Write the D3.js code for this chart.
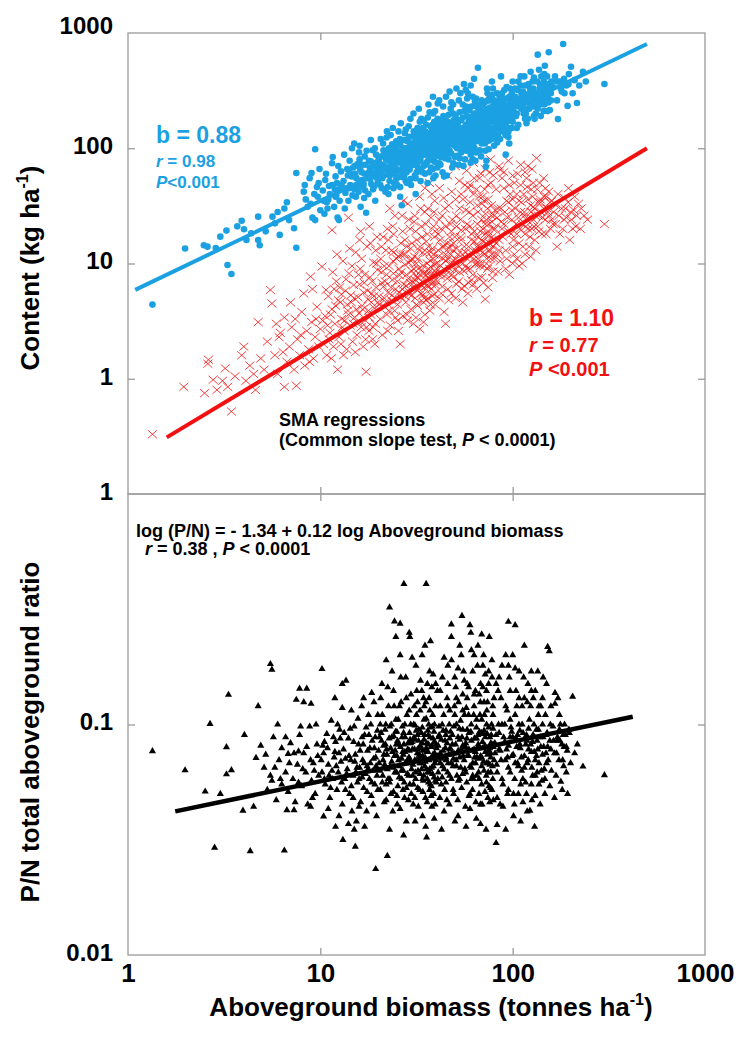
<!DOCTYPE html>
<html><head><meta charset="utf-8">
<script src="https://cdn.jsdelivr.net/npm/d3@7"></script>
<style>
body{margin:0;background:#fff}
svg{display:block}
text{font-family:"Liberation Sans",Arial,Helvetica,sans-serif;font-weight:bold}
</style>
</head><body>
<svg id="c" width="744" height="1048"></svg>
<script>
// ---------- data ----------
const xTickValues = [1, 10, 100, 1000];
const xTickLabels = ["1", "10", "100", "1000"];
const topYTickValues = [1000, 100, 10, 1];
const topYTickLabels = ["1000", "100", "10", "1"];
const botYTickValues = [1, 0.1, 0.01];
const botYTickLabels = ["1", "0.1", "0.01"];

// Nitrogen content (blue dots) [biomass t/ha, kg/ha]
const nitrogenPoints = [
[1.34,4.4],[1.98,13.5],[2.48,14.4],[2.59,14.0],[2.86,13.6],[3.02,17.1],[3.25,19.3],[3.29,9.7],[3.45,8.1],[4.01,19.8],[4.13,16.0],[4.37,18.3],[4.75,16],[4.84,14.4],[4.75,25.5],[5.64,25.5],[5.81,22.3],[6.15,17.7],[6.5,30],[6.7,34],[6.88,23.8],[7.3,20.2],[7.5,13.7],[7.5,61],[9.4,98],[17.3,27.6],[26.5,32],[31.3,40],[44,57],[72.5,69],[92,88],[3.7,21],[3.9,23.5],[5.2,19],[6.0,28],
[8.4,36],[8.6,31],[8.9,33],[9.1,25],[9.4,23.8],[9.6,46],[9.7,38],[10,29],[10.3,43],[10.6,53],[10.8,34],[11.2,40],[11.5,74],[11.5,48],[11.8,31],[12.0,57],[12.1,39],[12.3,25],[12.5,23.8],[12.7,45],[12.8,63],[9.0,61],[10.5,27],[11.0,36],[12.2,50],[8.2,42],[9.8,50],[10.9,30],[11.9,44],[12.6,35],
[8.3,48],[8.8,55],[9.3,40],[9.9,66],[10.4,35],[10.7,60],[11.1,47],[11.6,84],[12.0,38],[12.4,70],[12.9,48],[13.3,88],[13.7,45],[14.2,62],[14.6,100],[15.1,70],[15.6,47],[16.0,105],[16.5,72],[17.0,60],[17.4,95],[17.9,78],[18.3,118],[18.8,70],[19.2,100],[19.6,56],
[13.2,52],[13.5,41],[13.8,66],[14.0,35],[14.3,48],[14.6,57],[15,110],[15,44],[15.3,38],[15.6,73],[15.9,51],[16.2,31],[16.4,62],[16.7,46],[17.0,85],[17.5,55],[17.8,40],[18.1,68],[18.4,49],[18.7,96],[19,58],[19.3,35],[19.6,75],[19.9,52],[13.9,58],[14.8,68],[15.8,42],[16.9,37],[17.9,62],[18.8,44],[19.5,88],[16.0,80],[13.4,30],[18.2,54],[15.2,60],[17.2,72],[19.8,64],[14.2,78],[16.5,53],
[14.1,45],[14.7,39],[15.4,55],[16.1,66],[16.8,49],[17.6,58],[18.3,77],[19.1,47],[19.7,68],[15.9,92],[17.1,43],[18.6,62],
[20.2,62],[20.5,48],[20.8,85],[21,55],[21.2,110],[21.5,70],[21.8,42],[22,95],[22.3,64],[22.6,78],[22.9,52],[23.2,130],[23.5,60],[23.8,88],[24,45],[24.3,72],[24.6,102],[24.9,66],[25.2,56],[25.5,140],[25.8,80],[26,38],[26.3,92],[26.8,70],[27,118],[27.3,58],[27.6,84],[27.9,100],[28.2,50],[28.5,76],[28.8,155],[29.1,65],[29.4,90],[29.7,110],[20.3,74],[21.4,58],[22.4,46],[23.4,82],[24.4,60],[25.4,94],[26.4,74],[27.4,65],[28.4,98],[29.4,54],[20.9,66],[22.1,124],[23.1,70],[24.1,84],[25.1,48],[26.1,106],[27.1,90],[28.1,62],[29.1,126],[21.7,90],[23.7,99],[25.7,64],[27.7,72],[29.6,80],[24.8,115],
[20.1,80],[20.7,57],[21.3,96],[21.9,67],[22.5,88],[23.0,58],[23.6,108],[24.2,76],[24.8,54],[25.3,86],[25.9,120],[26.4,62],[27.0,78],[27.5,135],[28.0,88],[28.6,68],[29.2,104],[29.8,92],[20.4,55],[21.1,72],[22.7,100],[23.9,66],[25.0,78],[26.2,84],[27.3,100],[28.3,115],[29.5,70],[22.0,80],[24.5,92],[26.8,56],
[20.6,120],[21.4,85],[22.2,140],[23.0,95],[23.8,150],[24.6,80],[25.4,110],[26.2,165],[27.0,96],[27.8,145],[28.6,120],[29.4,180],[20.9,45],[22.6,40],[24.2,50],[26.0,46],[27.8,52],[29.6,48],
[30.2,95],[30.5,72],[30.8,128],[31,58],[31.5,105],[31.8,86],[32,150],[32.3,66],[32.6,115],[32.9,92],[33.2,78],[33.5,180],[33.8,100],[34,62],[34.3,135],[34.6,88],[34.9,110],[35.2,72],[35.5,160],[35.8,96],[36.1,50],[36.4,122],[36.7,84],[37,205],[37.3,106],[37.6,68],[37.9,140],[38.2,92],[38.5,118],[38.8,78],[39.1,170],[39.4,100],[39.7,58],[40,130],[40.4,86],[40.8,245],[41.2,110],[41.6,74],[42,150],[42.4,96],[42.8,125],[43.2,62],[43.6,190],[44,105],[44.4,82],[44.8,140],[30.4,110],[31.4,76],[32.4,98],[33.4,120],[34.4,70],[35.4,114],[36.4,90],[37.4,155],[38.4,66],[39.4,124],[40.4,104],[41.4,92],[42.4,175],[43.4,115],[30.9,88],[32.1,130],[33.1,64],[34.1,104],[35.1,140],[36.1,100],[37.1,80],[38.1,112],[39.1,88],[40.1,160],[41.1,130],[42.1,72],[43.1,98],[44.1,124],[31.9,70],[33.9,90],[35.9,76],[37.9,94],[39.9,110],[41.9,115],[43.9,160],[36.8,135],[38.6,200],[40.6,68],[42.6,108],[44.6,92],
[30.3,82],[30.7,100],[31.2,120],[31.6,94],[32.2,80],[32.7,140],[33.0,105],[33.6,86],[34.2,118],[34.8,96],[35.3,130],[35.7,108],[36.3,78],[36.9,115],[37.5,126],[38.0,102],[38.7,86],[39.3,145],[39.8,95],[40.3,118],[40.9,100],[41.5,140],[42.2,84],[42.7,160],[43.3,132],[43.8,88],[44.3,112],[44.9,175],[30.6,140],[31.7,62],[32.9,170],[34.0,150],[35.0,90],[36.2,185],[37.2,92],[38.3,160],[39.5,76],[40.7,180],[41.8,98],[43.0,145],[44.2,98],[33.3,100],[36.6,104],[39.8,130],[42.9,118],
[31.3,55],[33.2,52],[35.0,60],[36.9,62],[38.7,55],[30.5,200],[32.5,220],[34.5,175],[36.5,240],[38.5,280],[39.5,210],[41.5,260],[43.5,230],
[45.2,130],[45.6,100],[46,170],[46.4,80],[46.8,145],[47.2,112],[47.6,220],[48,90],[48.4,125],[48.8,160],[49.2,74],[49.6,135],[50,105],[50.5,190],[51,118],[51.5,86],[52,150],[52.5,260],[53,128],[53.5,98],[54,175],[54.5,110],[55,140],[55.5,70],[56,210],[56.5,120],[57,160],[57.5,95],[58,135],[58.5,300],[59,112],[59.5,180],[60,145],[60.5,88],[61,230],[61.5,125],[62,165],[62.5,104],[63,200],[63.5,140],[64,78],[64.5,270],[65,155],[65.5,118],[66,500],[66.5,185],[67,130],[67.5,96],[68,240],[68.5,150],[69,110],[69.5,205],[45.5,58],[47,95],[49,200],[51,140],[53,82],[55,240],[57,108],[59,150],[61,95],[63,118],[65,190],[67,160],[69,135],[46,120],[48,250],[50,160],[52,112],[54,92],[56,150],[58,190],[60,118],[62,280],[64,170],[66,140],[68,115],[46.5,195],[49.5,115],[52.5,175],[55.5,125],[58.5,100],[61.5,155],[64.5,130],[67.5,220],[69.5,160],[50,84],[57,320],[62,80],
[45.3,150],[45.9,112],[46.6,132],[47.3,165],[47.9,108],[48.6,140],[49.3,175],[49.9,125],[50.7,145],[51.4,100],[52.2,130],[52.9,205],[53.6,150],[54.3,120],[55.1,185],[55.8,145],[56.6,105],[57.3,230],[58.1,160],[58.8,125],[59.6,215],[60.4,170],[61.2,135],[62.1,190],[62.9,150],[63.7,255],[64.6,115],[65.4,175],[66.3,210],[67.2,145],[68.1,180],[69.0,260],[69.8,125],[46.1,90],[48.3,110],[51.8,165],[54.7,98],[57.8,140],[60.8,110],[63.3,100],[66.8,120],[69.3,190],[47.8,130],[53.3,115],[59.1,170],[65.0,230],
[45.0,280],[47.0,310],[49.0,240],[51.0,330],[53.5,300],[55.8,360],[58.0,270],[60.5,350],[63.0,400],[48.5,68],[52.5,72],[56.5,80],[60.5,75],[64.5,92],[68.5,85],
[70.5,180],[71,140],[71.5,250],[72,115],[72.5,200],[73,160],[73.5,330],[74,125],[74.5,220],[75,98],[75.5,170],[76,280],[76.5,140],[77,210],[77.5,120],[78,380],[78.5,175],[79,150],[79.5,240],[80,105],[81,200],[82,160],[83,300],[84,130],[85,230],[86,180],[87,420],[88,145],[89,260],[90,200],[92,165],[93,340],[94,220],[95,125],[96,280],[97,185],[98,240],[99,150],[100,380],[70,230],[72,95],[74,300],[76,190],[78,135],[80,260],[82,210],[84,180],[86,120],[88,300],[90,150],[92,240],[94,180],[96,110],[98,200],[100,170],[75,260],[79,330],[83,190],[87,210],[91,270],[95,190],[99,300],[81,125],[85,150],[89,180],[93,130],[97,330],[73,78],[86,260],
[70.2,155],[71.2,205],[72.3,175],[73.2,135],[74.2,260],[75.2,150],[76.2,225],[77.2,170],[78.2,290],[79.2,190],[80.5,140],[81.5,230],[82.5,185],[83.5,250],[84.5,155],[85.5,280],[86.5,200],[87.5,165],[88.5,230],[89.5,140],[90.5,320],[91.5,190],[92.5,210],[93.5,170],[94.5,270],[95.5,230],[96.5,150],[97.5,260],[98.5,180],[99.5,230],[71.8,110],[76.8,120],[81.8,165],[86.8,145],[91.8,130],[96.8,200],[74.8,190],[79.8,175],[84.8,210],[89.8,240],
[75,116],[83,112],[95,140],
[102,250],[104,190],[106,320],[108,230],[110,420],[112,280],[114,200],[116,350],[118,260],[120,180],[122,300],[124,460],[126,230],[128,330],[130,270],[132,200],[134,380],[135,649],[137,290],[139,240],[141,420],[143,320],[145,210],[147,520],[149,280],[151,360],[153,250],[154,680],[156,215],[158,300],[103,330],[107,160],[111,300],[115,420],[119,220],[123,240],[127,380],[131,300],[135,220],[139,350],[143,260],[147,300],[151,420],[155,330],[159,380],[105,270],[113,240],[121,360],[129,190],[137,480],[145,380],
[101,210],[103,280],[105,200],[107,380],[109,260],[111,220],[113,310],[115,250],[117,200],[119,290],[121,260],[123,330],[125,290],[127,260],[129,410],[131,230],[133,300],[136,260],[138,330],[140,290],[142,360],[144,300],[146,240],[148,340],[150,300],[152,280],[155,260],[157,340],[104,240],[110,350],[116,180],[122,220],[128,300],[134,250],[140,190],[146,440],[152,210],[158,260],
[105,150],[118,165],[130,180],
[162,340],[166,420],[170,260],[172,179],[176,380],[180,310],[183,803],[186,300],[190,350],[193,233],[196,440],[201,510],[205,300],[210,390],[216,247],[222,350],[232,461],[240,380],[170,380],[300,361],[178,330],[185,400],[195,360]
];

// Phosphorus content (red crosses) [biomass t/ha, kg/ha]
const phosphorusPoints = [
[1.34,0.33],[1.95,0.85],[2.5,0.75],[2.62,1.46],[2.77,0.98],[2.9,0.8],[3.1,0.96],[3.2,1.23],[3.45,0.52],[3.6,1.05],[4.0,1.9],[4.1,0.96],[4.3,1.3],[4.5,1.1],[4.75,3.1],[4.6,0.8],[3.9,1.6],[2.6,1.35],[3.3,0.85],[4.9,1.5],
[5.1,1.2],[5.3,2.1],[5.5,5.9],[5.6,4.5],[5.8,1.6],[6.0,1.1],[6.2,2.5],[6.5,0.85],[6.5,3.4],[6.7,1.4],[6.9,1.9],[7.1,2.8],[7.3,1.2],[7.5,0.87],[7.6,2.2],[7.8,1.6],[8.0,3.8],[8.2,5.5],[8.3,1.3],[8.5,2.6],[8.7,1.8],[8.9,7.7],[9.0,3.1],[9.2,1.5],[9.4,2.3],[9.6,4.2],[9.8,1.9],[10,2.7],[5.9,3.0],[6.4,1.7],[7.0,4.6],[7.9,2.4],[8.8,1.4],[9.5,3.3],[6.1,2.3],[7.4,3.3],[9.1,6.0],
[10.2,9.4],[10.4,2.0],[10.6,3.5],[10.8,1.6],[11,5.2],[11.2,2.5],[11.5,19.5],[11.5,4.0],[11.7,1.9],[11.9,3.0],[12.1,7.0],[12.3,1.2],[12.5,2.3],[12.7,4.6],[12.9,3.3],[13.1,10.5],[13.3,2.6],[13.5,5.8],[13.7,1.8],[13.9,3.9],[14.1,8.2],[14.3,2.9],[14.5,4.6],[14.7,2.1],[14.9,6.5],[15.1,3.4],[15.3,12.5],[15.5,2.4],[15.7,5.1],[15.9,3.7],[16.1,9.0],[16.3,2.8],[16.5,4.3],[16.7,1.9],[16.9,6.8],[17.1,3.2],[17.3,1.15],[17.5,14],[17.7,4.9],[17.9,2.6],[18.1,7.6],[18.3,3.6],[18.5,5.5],[18.7,2.2],[18.9,10.2],[19.1,4.1],[19.3,3.0],[19.5,6.2],[19.7,17],[19.9,4.6],[10.9,2.9],[11.8,6.0],[12.8,2.0],[13.8,4.4],[14.8,3.0],[15.8,8.0],[16.8,5.6],[17.8,3.9],[18.8,2.8],[19.8,8.8],[11.3,3.6],[12.4,4.8],[13.4,3.2],[14.4,5.3],[15.4,4.0],[16.4,11],[17.4,2.8],[18.4,4.6],[19.4,13],[14,25],[16,16],[18,21],
[10.3,3.2],[10.7,5.9],[11.1,2.2],[11.6,8.4],[12.0,4.3],[12.6,6.2],[13.0,2.8],[13.6,7.3],[14.0,3.6],[14.6,9.5],[15.0,5.0],[15.6,3.1],[16.0,6.6],[16.6,4.0],[17.0,8.0],[17.6,5.8],[18.0,3.4],[18.6,7.0],[19.0,5.2],[19.6,10],[11.4,1.5],[13.2,1.6],[15.2,1.7],[17.2,2.2],[19.2,2.0],[12.2,12],[14.2,13.5],[16.2,19],[18.2,15],[12.9,5.4],
[20.2,5.2],[20.5,3.3],[20.8,8.4],[21,2.4],[21.3,6.3],[21.6,4.2],[21.9,13],[22.2,3.6],[22.5,5.6],[22.8,9.5],[23.1,2.9],[23.4,4.8],[23.7,7.2],[24,18],[24.3,3.9],[24.6,6.0],[24.9,11],[25.2,4.4],[25.5,2.6],[25.8,7.9],[26,2.0],[26.3,5.1],[26.6,26],[26.9,3.5],[27.2,6.6],[27.5,9.8],[27.8,4.6],[28.1,14],[28.4,3.2],[28.7,7.4],[29,5.4],[29.3,20],[29.6,4.0],[29.9,8.6],[30.2,6.2],[30.5,3.0],[30.8,11.5],[31.1,5.0],[31.4,7.8],[31.7,16],[32,4.3],[32.3,9.0],[32.6,6.0],[32.9,2.7],[33.2,30],[33.5,5.5],[33.8,7.0],[34.1,12.5],[34.4,4.6],[34.7,8.2],[35,3.6],[35.3,22],[35.6,6.4],[35.9,10],[36.2,5.0],[36.5,14],[36.8,7.5],[37.1,3.9],[37.4,9.4],[37.7,6.0],[38,40],[38.3,5.2],[38.6,11],[38.9,7.0],[39.2,17],[39.5,4.4],[39.8,8.4],[20.6,11],[21.7,7.0],[22.6,16],[23.6,5.3],[24.6,3.4],[25.6,9.0],[26.6,6.0],[27.6,12],[28.6,5.8],[29.6,10.5],[30.6,6.8],[31.6,4.4],[32.6,13],[33.6,8.8],[34.6,6.2],[35.6,4.8],[36.6,9.0],[37.6,25],[38.6,8.0],[39.6,6.5],[22,4.6],[24,8.2],[26,12],[28,6.4],[30,15],[32,7.5],[34,5.3],[36,18],[38,6.6],[40,10],[23,30],[27,35],[31,26],[35,45],[39,28],
[20.3,4.4],[20.9,6.8],[21.5,5.0],[22.1,8.0],[22.7,3.9],[23.3,6.2],[23.9,10.5],[24.5,5.0],[25.1,7.0],[25.7,5.6],[26.3,8.4],[26.9,12],[27.5,5.2],[28.1,8.0],[28.7,10.2],[29.3,6.8],[29.9,5.3],[30.5,9.0],[31.1,7.2],[31.7,5.9],[32.3,11],[32.9,8.0],[33.5,6.5],[34.1,9.6],[34.7,5.0],[35.3,7.8],[35.9,12.5],[36.5,6.4],[37.1,10.6],[37.7,8.0],[38.3,13.5],[38.9,5.4],[39.5,9.8],[21.2,17],[23.8,21],[26.2,15],[28.8,24],[31.3,19],[33.8,17],[36.3,30],[38.8,21],[22.4,2.6],[25.2,3.2],[28.2,3.6],[31.4,3.4],[34.4,3.1],[37.4,4.4],[24.0,12.5],[30.0,11],[33.0,14],[36.0,8.2],[39.0,12],
[20.8,14],[22.3,20],[24.4,26],[26.8,19],[28.5,33],[30.7,23],[32.8,38],[34.9,28],[37.0,50],[39.3,35],[21.5,9.5],[23.5,13],[25.5,11.5],[27.5,16],[29.5,13.5],[31.5,10],[33.5,21],[35.5,15.5],[37.5,12.5],[39.5,19],
[40.5,7.0],[41,13],[41.5,5.0],[42,9.6],[42.5,20],[43,6.3],[43.5,11],[44,3.8],[44.8,3.0],[45,8.0],[45.5,15],[46,6.0],[46.5,32],[47,9.0],[47.5,12],[48,5.5],[48.5,24],[49,7.6],[49.5,10.5],[50,17],[51,6.6],[52,12],[53,8.4],[54,40],[55,4.6],[56,14],[57,9.5],[58,22],[59,6.8],[60,11.5],[61,16],[62,8.0],[63,55],[64,13],[65,6.0],[66,28],[67,10],[68,19],[69,7.6],[70,12.5],[71,35],[72,4.9],[73,15],[74,9.0],[75,22],[76,62],[77,11],[78,17],[79,8.5],[80,26],[41,18],[43,26],[45,10.5],[47,17],[49,13],[51,21],[53,30],[55,10],[57,12.5],[59,45],[61,7.2],[63,19],[65,14],[67,38],[69,16],[71,9.5],[73,24],[75,13],[77,50],[79,14],[42,7.8],[46,11],[50,8.8],[54,16],[58,9.0],[62,26],[66,11],[70,20],[74,30],[78,12],[44,14],[48,19],[52,9.6],[56,6.4],[60,34],[64,9.8],[68,13],[72,18],[76,15],[80,11],
[40.3,9.0],[41.2,11.5],[42.1,8.2],[43.0,14],[43.9,9.0],[44.8,12],[45.7,7.4],[46.6,13.5],[47.5,10],[48.4,8.0],[49.3,15],[50.2,11],[51.3,13.5],[52.4,7.0],[53.5,17],[54.6,12],[55.7,8.6],[56.8,20],[57.9,11],[59.0,14],[60.1,9.0],[61.2,18],[62.3,12],[63.4,15.5],[64.5,10],[65.6,22],[66.7,14],[67.8,9.5],[68.9,24],[70.0,15.5],[71.1,12],[72.2,27],[73.3,11],[74.4,19],[75.5,9.5],[76.6,13],[77.7,32],[78.8,20],[79.9,16],[41.5,24],[44.5,30],[47.5,22],[50.5,36],[53.5,24],[56.5,48],[59.5,28],[62.5,40],[65.5,32],[68.5,60],[71.5,44],[74.5,36],[77.5,26],[42.5,5.5],[46.5,4.8],[50.5,5.0],[54.5,6.0],[58.5,5.5],[62.5,6.6],[66.5,7.5],[70.5,6.8],[74.5,6.2],[78.5,7.5],
[41.6,45],[43.8,37],[46.0,58],[48.2,42],[50.4,70],[52.8,52],[55.2,36],[57.6,64],[60.0,48],[62.4,75],[64.8,44],[67.2,55],[69.6,38],[72.0,66],[74.4,48],[76.8,80],[79.2,58],[42,16],[45,21],[48,14.5],[51,26],[54,19.5],[57,29],[60,21],[63,11],[66,17],[69,33],[72,22],[75,17.5],[78,23],
[82,15],[84,30],[86,10.5],[88,20],[90,45],[92,13],[94,25],[96,8.0],[98,18],[100,36],[102,12],[104,22],[106,60],[108,15],[110,28],[112,10],[114,40],[116,18],[118,24],[120,70],[122,14],[124,32],[126,20],[128,50],[130,16],[133,82],[136,26],[139,36],[142,18],[145,55],[148,24],[151,30],[154,42],[157,20],[160,35],[85,16],[95,34],[105,18],[115,26],[125,44],[135,21],[145,30],[155,26],[90,22],[100,14],[110,48],[120,20],[130,30],[140,28],[150,38],[88,55],[108,35],[128,24],[148,45],[83,12],
[81,20],[83,25],[85,13],[87,30],[89,17],[91,28],[93,11],[95,19],[97,40],[99,24],[101,16],[103,30],[105,11],[107,25],[109,20],[111,34],[113,14],[115,28],[117,21],[119,46],[121,25],[123,17],[125,28],[127,38],[129,21],[131,26],[134,44],[137,19],[140,34],[143,25],[146,38],[149,18],[152,28],[156,34],[159,24],[84,8.5],[92,9.0],[100,10],[108,9.5],[116,12],[124,11.5],[132,13],[86,65],[96,48],[116,62],[138,50],[100,58],
[82,44],[85,70],[90,62],[95,78],[102,50],[110,72],[118,55],[126,66],[81,29],[87,23],[93,35],[99,29],[105,40],[112,22],[120,36],[128,31],[136,34],
[163,28],[167,22],[172,40],[176,18],[180,30],[186,37],[190,25],[195,45],[200,28],[205,20],[213,21],[220,33],[227,30],[235,26],[245,24],[300,22],[170,14],[185,24],[198,16],[210,38],
[162,22],[168,32],[174,26],[182,20],[188,30],[194,34],[202,24],[208,29],[215,26],[225,20]
];

// P/N ratio (black triangles) [biomass t/ha, ratio]
const ratioPoints = [
[1.34,0.0766],[1.98,0.0633],[2.52,0.0512],[2.67,0.1006],[2.82,0.0292],[3.02,0.050],[3.25,0.0797],[3.25,0.0608],[3.33,0.1346],[3.45,0.0634],[3.96,0.0423],[4.03,0.0901],[4.32,0.0282],[4.5,0.044],[4.63,0.0716],[4.75,0.1202],[4.9,0.081],[5.5,0.183],[5.6,0.173],[5.6,0.0571],[6.3,0.079],[6.5,0.0284],[6.7,0.0425],[7.3,0.0425],[6.8,0.0745],[7.7,0.0764],[7.5,0.128],[7.8,0.143],[8.5,0.143],[8.2,0.125],[8.95,0.123],[10.2,0.174],[10.4,0.0399],[13.1,0.0316],[15.2,0.0295],[19.4,0.0236],[22.3,0.0269],[27.2,0.407],[35.5,0.407],[22.9,0.322],[24.3,0.28],[26,0.274],[35.7,0.0324],[29.2,0.240],[54.5,0.296],[48,0.272],[60,0.27],[69,0.246],[95,0.279],[103,0.27],[82,0.0306],[83,0.0367],[152,0.217],[155,0.208],[166,0.137],[166,0.123],[205,0.132],[217,0.082],[232,0.0657],[300,0.0603],[193,0.050],[178,0.0565],[123,0.0423],
[5.1,0.065],[5.3,0.052],[5.5,0.06],[5.7,0.088],[5.9,0.047],[6.1,0.07],[6.3,0.055],[6.6,0.062],[6.8,0.051],[7.0,0.083],[7.2,0.058],[7.4,0.046],[7.6,0.067],[7.8,0.09],[8.0,0.054],[8.2,0.075],[8.4,0.062],[8.6,0.045],[8.8,0.098],[9.0,0.057],[9.2,0.068],[9.4,0.05],[9.6,0.082],[9.8,0.06],[6.0,0.1],[8.9,0.044],
[5.2,0.074],[5.8,0.065],[6.2,0.058],[6.9,0.068],[7.3,0.075],[7.7,0.056],[8.1,0.064],[8.5,0.08],[8.9,0.07],[9.3,0.063],[9.7,0.073],[6.6,0.088],[7.9,0.098],[9.1,0.048],[9.5,0.1],
[10.2,0.062],[10.4,0.075],[10.6,0.055],[10.8,0.091],[11,0.067],[11.2,0.048],[11.4,0.104],[11.6,0.058],[11.8,0.072],[12,0.084],[12.2,0.052],[12.4,0.062],[12.6,0.095],[12.8,0.069],[13,0.045],[13.2,0.078],[13.4,0.058],[13.6,0.155],[13.8,0.064],[14,0.087],[14.2,0.05],[14.4,0.07],[14.6,0.042],[14.8,0.06],[15,0.098],[15.2,0.074],[15.4,0.038],[15.6,0.056],[15.8,0.082],[16,0.065],[16.2,0.046],[16.4,0.12],[16.6,0.07],[16.8,0.053],[17,0.09],[17.2,0.061],[17.4,0.042],[17.6,0.077],[17.8,0.11],[18,0.058],[18.2,0.068],[18.4,0.049],[18.6,0.085],[18.8,0.063],[19,0.125],[19.2,0.055],[19.4,0.072],[19.6,0.04],[19.8,0.094],[10.5,0.084],[11.5,0.063],[12.5,0.04],[13.5,0.071],[14.5,0.115],[15.5,0.065],[16.5,0.088],[17.5,0.051],[18.5,0.137],[19.5,0.066],[13,0.15],[15,0.035],[17,0.036],[12,0.036],[14,0.037],
[10.1,0.07],[10.5,0.058],[10.9,0.079],[11.3,0.053],[11.7,0.088],[12.1,0.066],[12.5,0.075],[12.9,0.056],[13.3,0.092],[13.7,0.061],[14.1,0.073],[14.5,0.054],[14.9,0.084],[15.3,0.062],[15.7,0.106],[16.1,0.077],[16.5,0.059],[16.9,0.068],[17.3,0.097],[17.7,0.064],[18.1,0.079],[18.5,0.056],[18.9,0.071],[19.3,0.088],[19.7,0.06],[11.0,0.043],[13.0,0.118],[14.8,0.048],[16.8,0.13],[18.8,0.045],[12.3,0.1],[15.9,0.044],[17.9,0.09],[19.9,0.11],[11.9,0.13],
[10.3,0.081],[11.1,0.06],[11.9,0.076],[12.7,0.087],[13.5,0.052],[14.3,0.096],[15.1,0.069],[15.9,0.058],[16.7,0.082],[17.5,0.066],[18.3,0.1],[19.1,0.079],[19.9,0.052],
[20.2,0.068],[20.5,0.052],[20.8,0.085],[21.1,0.06],[21.4,0.074],[21.7,0.095],[22,0.047],[22.3,0.064],[22.6,0.12],[22.9,0.056],[23.2,0.079],[23.5,0.069],[23.8,0.042],[24.1,0.089],[24.4,0.062],[24.7,0.105],[25,0.073],[25.3,0.054],[25.6,0.082],[25.9,0.066],[26.2,0.16],[26.5,0.058],[26.8,0.076],[27.1,0.092],[27.4,0.048],[27.7,0.068],[28,0.13],[28.3,0.061],[28.6,0.083],[28.9,0.072],[29.2,0.055],[29.5,0.1],[29.8,0.064],[30.1,0.078],[30.4,0.045],[30.7,0.088],[31,0.07],[31.3,0.058],[31.6,0.11],[31.9,0.075],[32.2,0.063],[32.5,0.095],[32.8,0.052],[33.1,0.081],[33.4,0.068],[33.7,0.14],[34,0.073],[34.3,0.057],[34.6,0.086],[34.9,0.066],[35.2,0.048],[35.5,0.106],[35.8,0.076],[36.1,0.062],[36.4,0.09],[36.7,0.07],[37,0.17],[37.3,0.055],[37.6,0.08],[37.9,0.065],[38.2,0.098],[38.5,0.074],[38.8,0.05],[39.1,0.084],[39.4,0.068],[39.7,0.12],[21,0.11],[23,0.058],[25,0.093],[27,0.063],[29,0.077],[31,0.086],[33,0.061],[35,0.072],[37,0.064],[39,0.059],[22,0.19],[24,0.14],[26,0.043],[28,0.038],[30,0.195],[32,0.125],[34,0.04],[36,0.15],[38,0.044],[40,0.082],[20.5,0.1],[23.5,0.088],[26.5,0.071],[29.5,0.083],[32.5,0.071],[35.5,0.079],[38.5,0.087],[24.5,0.077],[27.5,0.076],[33.5,0.092],[36.5,0.056],
[20.1,0.077],[20.4,0.063],[20.7,0.092],[21.0,0.056],[21.3,0.081],[21.6,0.067],[21.9,0.1],[22.2,0.074],[22.5,0.058],[22.8,0.087],[23.1,0.066],[23.4,0.1],[23.7,0.076],[24.0,0.051],[24.3,0.073],[24.6,0.093],[24.9,0.062],[25.2,0.085],[25.5,0.07],[25.8,0.12],[26.1,0.08],[26.4,0.063],[26.7,0.098],[27.0,0.074],[27.3,0.056],[27.6,0.088],[27.9,0.068],[28.2,0.11],[28.5,0.078],[28.8,0.06],[29.1,0.092],[29.4,0.07],[29.7,0.05],[30.0,0.084],[30.3,0.067],[30.6,0.1],[30.9,0.078],[31.2,0.062],[31.5,0.094],[31.8,0.07],[32.1,0.053],[32.4,0.085],[32.7,0.074],[33.0,0.115],[33.3,0.079],[33.6,0.064],[33.9,0.097],[34.2,0.077],[34.5,0.06],[34.8,0.09],[35.1,0.069],[35.4,0.125],[35.7,0.083],[36.0,0.058],[36.3,0.076],[36.6,0.1],[36.9,0.062],[37.2,0.088],[37.5,0.071],[37.8,0.054],[38.1,0.081],[38.4,0.11],[38.7,0.066],[39.0,0.093],[39.3,0.075],[39.6,0.057],[39.9,0.07],
[20.6,0.13],[22.4,0.145],[24.2,0.12],[26.0,0.2],[27.8,0.16],[29.6,0.135],[31.4,0.18],[33.2,0.155],[35.0,0.22],[36.8,0.13],[38.6,0.165],[21.5,0.046],[23.3,0.05],[25.1,0.045],[26.9,0.052],[28.7,0.047],[30.5,0.055],[32.3,0.044],[34.1,0.051],[35.9,0.046],[37.7,0.049],[39.5,0.045],[22.9,0.035],[27.1,0.033],[31.1,0.038],[35.3,0.036],[39.1,0.039],[24.7,0.24],[29.0,0.25],[33.8,0.2],[37.4,0.23],[38.0,0.145],[25.4,0.105],[30.8,0.12],[34.6,0.105],[21.8,0.082],[27.2,0.082],[32.0,0.09],[36.2,0.094],
[20.3,0.088],[21.2,0.07],[22.1,0.078],[23.0,0.098],[23.9,0.065],[24.8,0.082],[25.7,0.059],[26.6,0.088],[27.5,0.1],[28.4,0.07],[29.3,0.086],[30.2,0.06],[31.1,0.099],[32.0,0.078],[32.9,0.068],[33.8,0.083],[34.7,0.12],[35.6,0.064],[36.5,0.082],[37.4,0.097],[38.3,0.061],[39.2,0.1],
[20.9,0.15],[23.6,0.17],[26.3,0.125],[29.0,0.115],[31.7,0.14],[34.4,0.13],[37.1,0.115],[39.8,0.15],[22.0,0.055],[25.0,0.049],[28.0,0.053],[31.0,0.048],[34.0,0.058],[37.0,0.052],[40.0,0.056],
[40.5,0.073],[41,0.062],[41.5,0.09],[42,0.068],[42.5,0.055],[43,0.1],[43.5,0.077],[44,0.064],[44.5,0.085],[45,0.07],[45.5,0.047],[46,0.12],[46.5,0.074],[47,0.06],[47.5,0.093],[48,0.068],[48.5,0.082],[49,0.052],[49.5,0.075],[50,0.11],[51,0.066],[52,0.088],[53,0.058],[54,0.078],[55,0.135],[56,0.07],[57,0.062],[58,0.095],[59,0.073],[60,0.05],[61,0.085],[62,0.068],[63,0.12],[64,0.076],[65,0.06],[66,0.09],[67,0.071],[68,0.045],[69,0.105],[70,0.079],[71,0.063],[72,0.088],[73,0.056],[74,0.074],[75,0.15],[76,0.067],[77,0.083],[78,0.052],[79,0.096],[80,0.07],[41,0.081],[43,0.059],[45,0.094],[47,0.078],[49,0.066],[51,0.1],[53,0.072],[55,0.061],[57,0.083],[59,0.11],[61,0.065],[63,0.078],[65,0.087],[67,0.058],[69,0.072],[71,0.094],[73,0.068],[75,0.077],[77,0.062],[79,0.082],[42,0.14],[46,0.18],[50,0.16],[54,0.2],[58,0.13],[62,0.17],[66,0.22],[70,0.145],[74,0.125],[78,0.19],[44,0.042],[52,0.04],[60,0.043],[68,0.037],[76,0.046],[48,0.24],[56,0.155],[64,0.14],[72,0.165],[80,0.13],[45,0.072],[53,0.086],[61,0.058],[69,0.092],[77,0.072],
[40.2,0.079],[40.8,0.058],[41.4,0.098],[42.0,0.075],[42.6,0.086],[43.2,0.066],[43.8,0.11],[44.4,0.072],[45.0,0.056],[45.6,0.083],[46.2,0.068],[46.8,0.1],[47.4,0.079],[48.0,0.058],[48.6,0.09],[49.2,0.071],[49.8,0.12],[50.5,0.082],[51.3,0.06],[52.1,0.077],[52.9,0.096],[53.7,0.065],[54.5,0.088],[55.3,0.073],[56.1,0.11],[56.9,0.08],[57.7,0.056],[58.5,0.074],[59.3,0.092],[60.1,0.066],[60.9,0.1],[61.7,0.077],[62.5,0.058],[63.3,0.087],[64.1,0.068],[64.9,0.105],[65.7,0.079],[66.5,0.062],[67.3,0.093],[68.1,0.073],[68.9,0.055],[69.7,0.084],[70.5,0.069],[71.3,0.11],[72.1,0.076],[72.9,0.06],[73.7,0.091],[74.5,0.068],[75.3,0.054],[76.1,0.088],[76.9,0.075],[77.7,0.1],[78.5,0.066],[79.3,0.08],
[40.6,0.14],[43.1,0.16],[45.6,0.13],[48.1,0.19],[50.6,0.145],[53.1,0.22],[55.6,0.17],[58.1,0.15],[60.6,0.25],[63.1,0.135],[65.6,0.18],[68.1,0.15],[70.6,0.2],[73.1,0.14],[75.6,0.24],[78.1,0.16],[41.8,0.048],[44.3,0.052],[46.8,0.045],[49.3,0.05],[51.8,0.047],[54.3,0.053],[56.8,0.044],[59.3,0.049],[61.8,0.052],[64.3,0.046],[66.8,0.05],[69.3,0.045],[71.8,0.051],[74.3,0.048],[76.8,0.053],[79.3,0.047],[42.7,0.035],[50.1,0.038],[57.2,0.036],[64.7,0.039],[72.7,0.035],[47.1,0.115],[52.3,0.125],[57.4,0.118],[62.7,0.11],[67.9,0.125],[73.4,0.115],[78.8,0.12],[44.9,0.09],[55.0,0.095],[65.2,0.072],[75.0,0.097],
[41.1,0.088],[42.3,0.071],[43.5,0.094],[44.7,0.079],[45.9,0.062],[47.1,0.087],[48.3,0.075],[49.5,0.098],[50.8,0.07],[52.2,0.057],[53.6,0.104],[55.0,0.081],[56.4,0.064],[57.8,0.087],[59.2,0.078],[60.6,0.093],[62.0,0.06],[63.4,0.072],[64.8,0.097],[66.2,0.082],[67.6,0.11],[69.0,0.066],[70.4,0.091],[71.8,0.081],[73.2,0.1],[74.6,0.062],[76.0,0.079],[77.4,0.09],[78.8,0.058],
[42,0.12],[46,0.15],[51,0.13],[55,0.115],[59,0.145],[63,0.2],[67,0.135],[71,0.125],[75,0.17],[79,0.11],[44,0.195],[52,0.175],[61,0.21],[70,0.18],
[81,0.075],[83,0.062],[85,0.092],[87,0.07],[89,0.055],[91,0.1],[93,0.078],[95,0.065],[97,0.088],[99,0.073],[101,0.05],[103,0.11],[105,0.08],[107,0.066],[109,0.094],[111,0.072],[113,0.058],[115,0.13],[117,0.082],[119,0.068],[121,0.096],[125,0.076],[127,0.06],[129,0.1],[131,0.07],[134,0.085],[137,0.055],[140,0.12],[143,0.074],[146,0.064],[149,0.09],[158,0.078],[84,0.14],[88,0.18],[92,0.12],[96,0.16],[100,0.2],[104,0.14],[108,0.17],[112,0.12],[120,0.15],[128,0.13],[136,0.11],[144,0.16],[86,0.045],[94,0.05],[102,0.045],[110,0.055],[118,0.05],[126,0.047],[134,0.062],[142,0.057],[150,0.068],[98,0.097],
[80.8,0.083],[82.6,0.067],[84.4,0.1],[86.2,0.077],[88.0,0.058],[89.8,0.088],[91.6,0.07],[93.4,0.115],[95.2,0.081],[97.0,0.062],[98.8,0.093],[100.6,0.074],[102.4,0.058],[104.2,0.087],[106.0,0.068],[107.8,0.1],[109.6,0.079],[111.4,0.063],[113.2,0.092],[115.0,0.073],[116.8,0.056],[118.6,0.085],[120.4,0.07],[122.2,0.105],[124.0,0.082],[125.8,0.065],[127.6,0.09],[129.4,0.076],[131.2,0.06],[133.0,0.095],[135.0,0.078],[137.0,0.068],[139.0,0.088],[141.0,0.063],[143.0,0.1],[145.0,0.08],[147.0,0.058],[149.0,0.075],[151.0,0.092],[153.0,0.07],[156.0,0.085],[159.0,0.063],[162.0,0.098],[165.0,0.075],[168.0,0.06],[171.0,0.088],[174.0,0.07],[177.0,0.1],[180.0,0.082],[184.0,0.066],[188.0,0.09],[192.0,0.077],[196.0,0.095],
[82,0.15],[87,0.13],[92,0.2],[97,0.14],[103,0.175],[108,0.13],[114,0.16],[119,0.125],[125,0.17],[131,0.14],[137,0.12],[143,0.13],[150,0.15],[158,0.12],[172,0.13],[83,0.048],[89,0.044],[95,0.052],[101,0.04],[107,0.05],[113,0.046],[119,0.042],[125,0.055],[131,0.049],[139,0.045],[147,0.05],[156,0.054],[165,0.048],[181,0.052],[92,0.035],[110,0.038],[130,0.036],
[82,0.09],[85,0.078],[88,0.1],[91,0.084],[94,0.072],[97,0.105],[100,0.088],[103,0.068],[106,0.09],[109,0.082],[112,0.1],[115,0.065],[118,0.09],[121,0.078],[124,0.12],[127,0.084],[130,0.088],[133,0.073],[136,0.095],[140,0.08],[144,0.088],[148,0.11],[152,0.08],[157,0.1],[163,0.085],[169,0.075],[176,0.085],[183,0.09],[190,0.08],
[85,0.16],[95,0.18],[105,0.12],[115,0.22],[125,0.14],[135,0.17],
[170,0.085],[175,0.095],[182,0.07],[186,0.1],[190,0.062],[197,0.092],[210,0.075],[185,0.08],[175,0.11],[200,0.068]
];

// regression line end points
const nitrogenFit = [[1.09, 5.9], [499, 803]];
const phosphorusFit = [[1.59, 0.31], [499, 100]];
const ratioFit = [[1.76, 0.042], [421, 0.108]];

// ---------- layout ----------
const L = 128, R = 705, T = 33, M = 494, B = 955;
const BLUE = "#1ba1e2", RED = "#f21010", GREY = "#9a9a9a";

const svg = d3.select("#c");
const x = d3.scaleLog().domain([1, 1000]).range([L, R]);
const yTop = d3.scaleLog().domain([0.1, 1000]).range([M, T]);
const yBot = d3.scaleLog().domain([0.01, 1]).range([B, M]);

// frames
svg.append("rect").attr("x", L).attr("y", T).attr("width", R - L).attr("height", M - T)
  .attr("fill", "none").attr("stroke", GREY).attr("stroke-width", 1.3);
svg.append("rect").attr("x", L).attr("y", M).attr("width", R - L).attr("height", B - M)
  .attr("fill", "none").attr("stroke", GREY).attr("stroke-width", 1.3);

// inner ticks
function ticksOnly(axis, tx, ty) {
  const g = svg.append("g").attr("transform", `translate(${tx},${ty})`).call(axis);
  g.select(".domain").remove();
  g.selectAll("text").remove();
  g.selectAll("line").attr("stroke", GREY).attr("stroke-width", 1.3);
}
const innerX = [10, 100];
ticksOnly(d3.axisTop(x).tickValues(innerX).tickSize(-7), 0, T);
ticksOnly(d3.axisBottom(x).tickValues(innerX).tickSize(-7), 0, M);
ticksOnly(d3.axisTop(x).tickValues(innerX).tickSize(-7), 0, M);
ticksOnly(d3.axisBottom(x).tickValues(innerX).tickSize(-7), 0, B);
ticksOnly(d3.axisLeft(yTop).tickValues([100, 10, 1]).tickSize(-7), L, 0);
ticksOnly(d3.axisRight(yTop).tickValues([100, 10, 1]).tickSize(-7), R, 0);
ticksOnly(d3.axisLeft(yBot).tickValues([0.1]).tickSize(-7), L, 0);
ticksOnly(d3.axisRight(yBot).tickValues([0.1]).tickSize(-7), R, 0);

// tick labels
function labelAxis(axis, tx, ty, size) {
  const g = svg.append("g").attr("transform", `translate(${tx},${ty})`).call(axis);
  g.select(".domain").remove();
  g.selectAll("line").remove();
  g.attr("font-family", null).attr("font-size", null);
  g.selectAll("text").attr("font-size", size).attr("fill", "#000");
  return g;
}
const gyt = labelAxis(d3.axisLeft(yTop).tickValues(topYTickValues).tickSize(0).tickPadding(15)
  .tickFormat((d, i) => topYTickLabels[i]), L, 0, 24);
gyt.selectAll("text").attr("dy", d => d === 1000 ? "0em" : "0.22em");
const gyb = labelAxis(d3.axisLeft(yBot).tickValues(botYTickValues).tickSize(0).tickPadding(15)
  .tickFormat((d, i) => botYTickLabels[i]), L, 0, 24);
gyb.selectAll("text").attr("dy", "0.22em");
const gx = labelAxis(d3.axisBottom(x).tickValues(xTickValues).tickSize(0)
  .tickFormat((d, i) => xTickLabels[i]), 0, B, 26);
gx.selectAll("text").attr("dy", null).attr("y", 27);

// ---------- marks ----------
const crossPath = "M-4.5,-4L4.5,4M-4.5,4L4.5,-4";
svg.append("g").selectAll("path").data(phosphorusPoints).join("path")
  .attr("transform", d => `translate(${x(d[0])},${yTop(d[1])})`)
  .attr("d", crossPath).attr("stroke", RED).attr("stroke-width", 0.8).attr("fill", "none");

svg.append("g").selectAll("circle").data(nitrogenPoints).join("circle")
  .attr("cx", d => x(d[0])).attr("cy", d => yTop(d[1])).attr("r", 3.3).attr("fill", BLUE);

const tri = d3.symbol(d3.symbolTriangle, 22);
svg.append("g").selectAll("path").data(ratioPoints).join("path")
  .attr("transform", d => `translate(${x(d[0])},${yBot(d[1])})`)
  .attr("d", tri).attr("fill", "#000");

const lineTop = d3.line().x(d => x(d[0])).y(d => yTop(d[1]));
const lineBot = d3.line().x(d => x(d[0])).y(d => yBot(d[1]));
svg.append("path").attr("d", lineTop(nitrogenFit)).attr("stroke", BLUE).attr("stroke-width", 4).attr("fill", "none");
svg.append("path").attr("d", lineTop(phosphorusFit)).attr("stroke", RED).attr("stroke-width", 4).attr("fill", "none");
svg.append("path").attr("d", lineBot(ratioFit)).attr("stroke", "#000").attr("stroke-width", 4.5).attr("fill", "none");

// ---------- annotations ----------
function rich(px, py, size, color, parts) {
  const t = svg.append("text").attr("x", px).attr("y", py).attr("font-size", size).attr("fill", color);
  parts.forEach(p => {
    const s = t.append("tspan").text(p[0]);
    if (p[1]) s.attr("font-style", "italic");
  });
  return t;
}
rich(156, 143, 23, BLUE, [["b = 0.88"]]);
rich(156, 167, 17, BLUE, [["r", 1], [" = 0.98"]]);
rich(156, 188, 17, BLUE, [["P", 1], ["<0.001"]]);
rich(529, 326, 23, RED, [["b = 1.10"]]);
rich(529, 352, 20, RED, [["r", 1], [" = 0.77"]]);
rich(529, 376, 20, RED, [["P", 1], [" <0.001"]]);
rich(279, 426, 18, "#000", [["SMA regressions"]]);
rich(279, 446, 18, "#000", [["(Common slope test, "], ["P", 1], [" < 0.0001)"]]);
rich(136, 537, 18, "#000", [["log (P/N) = - 1.34 + 0.12 log Aboveground biomass"]]);
rich(145, 555, 18, "#000", [["r", 1], [" = 0.38 , "], ["P", 1], [" < 0.0001"]]);

// axis titles
function title(tx, ty, rot, main, tail) {
  const t = svg.append("text").attr("transform", `translate(${tx},${ty}) rotate(${rot})`)
    .attr("text-anchor", "middle").attr("font-size", 26).attr("fill", "#000");
  t.append("tspan").text(main);
  if (tail) {
    t.append("tspan").attr("font-size", 16).attr("dy", -11).text("-1");
    t.append("tspan").attr("dy", 11).text(")");
  }
}
title(39, 268, -90, "Content (kg ha", true);
title(39, 732, -90, "P/N total aboveground ratio", false);
title(431, 1016, 0, "Aboveground biomass (tonnes ha", true);
</script>
</body></html>
